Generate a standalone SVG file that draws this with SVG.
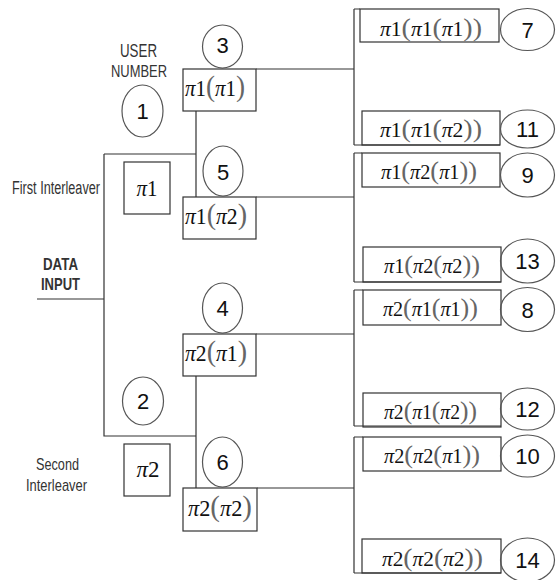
<svg xmlns="http://www.w3.org/2000/svg" width="559" height="580" viewBox="0 0 559 580">
<style>
.bx{fill:none;stroke:#333;stroke-width:1.2}
.ci{fill:none;stroke:#555;stroke-width:1.2}
.ln{fill:none;stroke:#333;stroke-width:1.2}
.lbl{font-family:"Liberation Sans",Arial,sans-serif;fill:#333}
.num{font-family:"Liberation Sans",Arial,sans-serif;font-size:22px;fill:#111;text-anchor:middle}
.m{font-family:"Liberation Serif","Times New Roman",serif;fill:#111;text-anchor:middle}
.i{font-style:italic}
.br{fill:#666;font-size:1.3em}
</style>
<rect width="559" height="580" fill="#fff"/>
<g id="connectors">
<path class="ln" d="M196,111V197M104,154H196M104,154V436H196M196,376V488M37,299H104"/>
<path class="ln" d="M256,69H354M354,9V145M354,9H360M354,145H500"/>
<path class="ln" d="M256,197H354M354,153V282M354,153H362M354,282H501"/>
<path class="ln" d="M256,334H354M354,290V426M354,290H363M354,426H501"/>
<path class="ln" d="M257,488H354M354,437V573M354,437H363M354,573H501"/>
</g>
<g id="labels">
<text class="lbl" x="138.5" y="57" font-size="18" text-anchor="middle" textLength="37" lengthAdjust="spacingAndGlyphs">USER</text>
<text class="lbl" x="139" y="77" font-size="17" text-anchor="middle" textLength="56" lengthAdjust="spacingAndGlyphs">NUMBER</text>
<text class="lbl" x="12" y="194" font-size="18" textLength="88" lengthAdjust="spacingAndGlyphs">First Interleaver</text>
<text class="lbl" x="43" y="270" font-size="17" font-weight="bold" textLength="35" lengthAdjust="spacingAndGlyphs">DATA</text>
<text class="lbl" x="41" y="290" font-size="17" font-weight="bold" textLength="39" lengthAdjust="spacingAndGlyphs">INPUT</text>
<text class="lbl" x="36" y="470" font-size="17" textLength="43" lengthAdjust="spacingAndGlyphs">Second</text>
<text class="lbl" x="26" y="491" font-size="17" textLength="61" lengthAdjust="spacingAndGlyphs">Interleaver</text>
</g>
<g id="user1"><ellipse class="ci" cx="142.5" cy="111" rx="20.5" ry="26"/><text class="num" x="142.5" y="119">1</text></g>
<g id="user2"><ellipse class="ci" cx="143" cy="401" rx="20.5" ry="24"/><text class="num" x="143" y="409">2</text></g>
<g id="interleaver1"><rect class="bx" x="124" y="162" width="46" height="52"/><text class="m" x="147" y="196" font-size="23" textLength="21" lengthAdjust="spacingAndGlyphs"><tspan class="i">π</tspan>1</text></g>
<g id="interleaver2"><rect class="bx" x="124" y="444" width="46" height="52"/><text class="m" x="148" y="477" font-size="23" textLength="23" lengthAdjust="spacingAndGlyphs"><tspan class="i">π</tspan>2</text></g>
<g id="user3"><ellipse class="ci" cx="222.5" cy="46.5" rx="20" ry="21.5"/><text class="num" x="222.5" y="53">3</text>
<rect class="bx" x="183" y="69" width="73" height="42"/><text class="m" x="215" y="96" font-size="23" textLength="60" lengthAdjust="spacingAndGlyphs"><tspan class="i">π</tspan>1<tspan class="br">(</tspan><tspan class="i">π</tspan>1<tspan class="br">)</tspan></text></g>
<g id="user5"><ellipse class="ci" cx="223" cy="171" rx="20" ry="25"/><text class="num" x="223" y="180">5</text>
<rect class="bx" x="183" y="197" width="73" height="42"/><text class="m" x="216" y="224" font-size="23" textLength="62" lengthAdjust="spacingAndGlyphs"><tspan class="i">π</tspan>1<tspan class="br">(</tspan><tspan class="i">π</tspan>2<tspan class="br">)</tspan></text></g>
<g id="user4"><ellipse class="ci" cx="222.5" cy="308" rx="20" ry="25"/><text class="num" x="222.5" y="316">4</text>
<rect class="bx" x="183" y="334" width="73" height="42"/><text class="m" x="216" y="361" font-size="23" textLength="62" lengthAdjust="spacingAndGlyphs"><tspan class="i">π</tspan>2<tspan class="br">(</tspan><tspan class="i">π</tspan>1<tspan class="br">)</tspan></text></g>
<g id="user6"><ellipse class="ci" cx="222.5" cy="462" rx="20" ry="25"/><text class="num" x="222.5" y="470">6</text>
<rect class="bx" x="183" y="488" width="74" height="43"/><text class="m" x="220" y="516" font-size="23" textLength="64" lengthAdjust="spacingAndGlyphs"><tspan class="i">π</tspan>2<tspan class="br">(</tspan><tspan class="i">π</tspan>2<tspan class="br">)</tspan></text></g>
<g id="user7"><rect class="bx" x="360" y="9" width="139" height="33"/><text class="m" x="431" y="36" font-size="20" textLength="102" lengthAdjust="spacingAndGlyphs"><tspan class="i">π</tspan>1<tspan class="br">(</tspan><tspan class="i">π</tspan>1<tspan class="br">(</tspan><tspan class="i">π</tspan>1<tspan class="br">))</tspan></text>
<ellipse class="ci" cx="527.5" cy="29.5" rx="27" ry="21"/><text class="num" x="527.5" y="37.5">7</text></g>
<g id="user11"><rect class="bx" x="362" y="111" width="138" height="34"/><text class="m" x="431" y="137" font-size="20" textLength="102" lengthAdjust="spacingAndGlyphs"><tspan class="i">π</tspan>1<tspan class="br">(</tspan><tspan class="i">π</tspan>1<tspan class="br">(</tspan><tspan class="i">π</tspan>2<tspan class="br">))</tspan></text>
<ellipse class="ci" cx="527.5" cy="129" rx="27" ry="19"/><text class="num" x="527.5" y="137">11</text></g>
<g id="user9"><rect class="bx" x="362" y="153" width="138" height="34"/><text class="m" x="429" y="179" font-size="20" textLength="96" lengthAdjust="spacingAndGlyphs"><tspan class="i">π</tspan>1<tspan class="br">(</tspan><tspan class="i">π</tspan>2<tspan class="br">(</tspan><tspan class="i">π</tspan>1<tspan class="br">))</tspan></text>
<ellipse class="ci" cx="527.5" cy="175" rx="27" ry="22"/><text class="num" x="527.5" y="183">9</text></g>
<g id="user13"><rect class="bx" x="363" y="247" width="138" height="35"/><text class="m" x="432" y="273" font-size="20" textLength="96" lengthAdjust="spacingAndGlyphs"><tspan class="i">π</tspan>1<tspan class="br">(</tspan><tspan class="i">π</tspan>2<tspan class="br">(</tspan><tspan class="i">π</tspan>2<tspan class="br">))</tspan></text>
<ellipse class="ci" cx="527.5" cy="261" rx="27" ry="22"/><text class="num" x="527.5" y="269">13</text></g>
<g id="user8"><rect class="bx" x="363" y="290" width="138" height="35"/><text class="m" x="430.5" y="316" font-size="20" textLength="95" lengthAdjust="spacingAndGlyphs"><tspan class="i">π</tspan>2<tspan class="br">(</tspan><tspan class="i">π</tspan>1<tspan class="br">(</tspan><tspan class="i">π</tspan>1<tspan class="br">))</tspan></text>
<ellipse class="ci" cx="527.5" cy="309.5" rx="27" ry="22"/><text class="num" x="527.5" y="317.5">8</text></g>
<g id="user12"><rect class="bx" x="363" y="393" width="138" height="34"/><text class="m" x="430.5" y="419" font-size="20" textLength="93" lengthAdjust="spacingAndGlyphs"><tspan class="i">π</tspan>2<tspan class="br">(</tspan><tspan class="i">π</tspan>1<tspan class="br">(</tspan><tspan class="i">π</tspan>2<tspan class="br">))</tspan></text>
<ellipse class="ci" cx="527.5" cy="409" rx="27" ry="21"/><text class="num" x="527.5" y="417">12</text></g>
<g id="user10"><rect class="bx" x="363" y="437" width="138" height="34"/><text class="m" x="432" y="463" font-size="20" textLength="96" lengthAdjust="spacingAndGlyphs"><tspan class="i">π</tspan>2<tspan class="br">(</tspan><tspan class="i">π</tspan>2<tspan class="br">(</tspan><tspan class="i">π</tspan>1<tspan class="br">))</tspan></text>
<ellipse class="ci" cx="527.5" cy="456" rx="27" ry="21"/><text class="num" x="527.5" y="464">10</text></g>
<g id="user14"><rect class="bx" x="362" y="539" width="139" height="34"/><text class="m" x="432.5" y="566" font-size="20" textLength="101" lengthAdjust="spacingAndGlyphs"><tspan class="i">π</tspan>2<tspan class="br">(</tspan><tspan class="i">π</tspan>2<tspan class="br">(</tspan><tspan class="i">π</tspan>2<tspan class="br">))</tspan></text>
<ellipse class="ci" cx="527.5" cy="560" rx="27" ry="22"/><text class="num" x="527.5" y="568">14</text></g>
</svg>
